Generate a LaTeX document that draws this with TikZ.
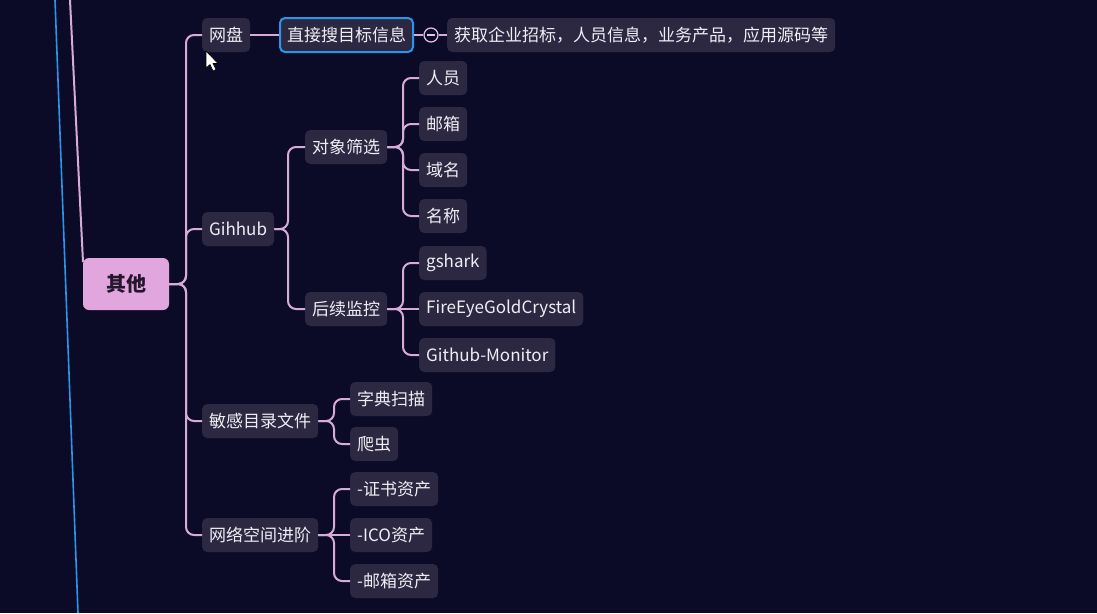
\documentclass[tikz,border=0pt]{standalone}
\usepackage{fontspec}
\setmainfont{Noto Sans CJK SC}
\definecolor{bg}{RGB}{11,11,40}
\definecolor{nodefill}{RGB}{44,40,66}
\definecolor{linkc}{RGB}{215,170,215}
\definecolor{rootfill}{RGB}{226,166,222}
\definecolor{roottext}{RGB}{35,22,45}
\definecolor{selblue}{RGB}{40,150,235}
\definecolor{txt}{RGB}{240,238,245}
\tikzset{
  topic/.style={fill=nodefill, rounded corners=5pt, text=txt, anchor=west,
    minimum height=34pt, inner xsep=7pt, inner ysep=0pt, font=\fontsize{17}{19}\selectfont},
  rootnode/.style={fill=rootfill, rounded corners=6pt, text=roottext,
    minimum width=86pt, minimum height=52pt, font=\fontsize{20}{22}\selectfont\bfseries},
  link/.style={draw=linkc, line width=2pt, rounded corners=8pt},
  selected/.style={draw=selblue, line width=2pt}
}
\begin{document}
\begin{tikzpicture}[x=1pt,y=-1pt]
\fill[bg] (0,0) rectangle (1097,613);
\useasboundingbox (0,0) rectangle (1097,613);
% side lines
\coordinate (b1) at (55,0);
\coordinate (b2) at (78,613);
\draw[selblue, line width=1.6pt] (b1) -- (b2);
\coordinate (p1) at (70,0);
\coordinate (p2) at (83,262);
\draw[linkc, line width=2pt] (p1) -- (p2);
% trunk x positions
\coordinate (t0) at (186,0);
\coordinate (t1) at (288,0);
\coordinate (t2) at (403,0);
\coordinate (t3) at (334,0);
% root
\node[rootnode] (root) at (126,284) {其他};
% level 1
\node[topic] (wp) at (202,35) {网盘};
\node[topic] (gh) at (202,229) {Gihhub};
\node[topic] (mg) at (202,421) {敏感目录文件};
\node[topic] (wl) at (202,535) {网络空间进阶};
% wangpan chain
\node[topic, selected] (zj) at (279,35) {直接搜目标信息};
\node[circle, draw=linkc!70!white, line width=1.2pt, fill=bg, minimum size=14pt, inner sep=0pt] (col) at (431,35) {};
\node[topic] (hq) at (447,35) {获取企业招标，人员信息，业务产品，应用源码等};
% github
\node[topic] (dx) at (305,147) {对象筛选};
\node[topic] (hx) at (305,309) {后续监控};
\node[topic] (ry) at (419,78) {人员};
\node[topic] (yx) at (419,124) {邮箱};
\node[topic] (ym) at (419,170) {域名};
\node[topic] (mc) at (419,216) {名称};
\node[topic] (gs) at (419,263) {gshark};
\node[topic] (fe) at (419,309) {FireEyeGoldCrystal};
\node[topic] (gm) at (419,355) {Github-Monitor};
% sensitive
\node[topic] (zd) at (350,399) {字典扫描};
\node[topic] (pc) at (350,444) {爬虫};
% cyberspace
\node[topic] (zs) at (350,489) {-证书资产};
\node[topic] (ico) at (350,535) {-ICO资产};
\node[topic] (yxz) at (350,581) {-邮箱资产};
% connectors root
\foreach \c in {wp,gh,mg,wl}
  \draw[link] (root.east) -- (t0 |- root.east) -- (t0 |- \c.west) -- (\c.west);
\draw[link] (wp.east) -- (zj.west);
\draw[linkc, line width=2pt] (zj.east) -- (col.west);
\draw[linkc, line width=2pt] (col.east) -- (hq.west);
\draw[linkc!70!white, line width=1.2pt] ([xshift=-4pt]col.center) -- ([xshift=4pt]col.center);
\foreach \c in {dx,hx}
  \draw[link] (gh.east) -- (t1 |- gh.east) -- (t1 |- \c.west) -- (\c.west);
\foreach \c in {ry,yx,ym,mc}
  \draw[link] (dx.east) -- (t2 |- dx.east) -- (t2 |- \c.west) -- (\c.west);
\foreach \c in {gs,gm}
  \draw[link] (hx.east) -- (t2 |- hx.east) -- (t2 |- \c.west) -- (\c.west);
\draw[link] (hx.east) -- (fe.west);
\foreach \c in {zd,pc}
  \draw[link] (mg.east) -- (t3 |- mg.east) -- (t3 |- \c.west) -- (\c.west);
\foreach \c in {zs,yxz}
  \draw[link] (wl.east) -- (t3 |- wl.east) -- (t3 |- \c.west) -- (\c.west);
\draw[link] (wl.east) -- (ico.west);
% cursor
\filldraw[fill=white, draw=black, line width=0.6pt] (206,51) -- (206,68) -- (210,64.5) -- (213,71) -- (216,69.5) -- (213,63.5) -- (218,63.5) -- cycle;
\end{tikzpicture}
\end{document}
